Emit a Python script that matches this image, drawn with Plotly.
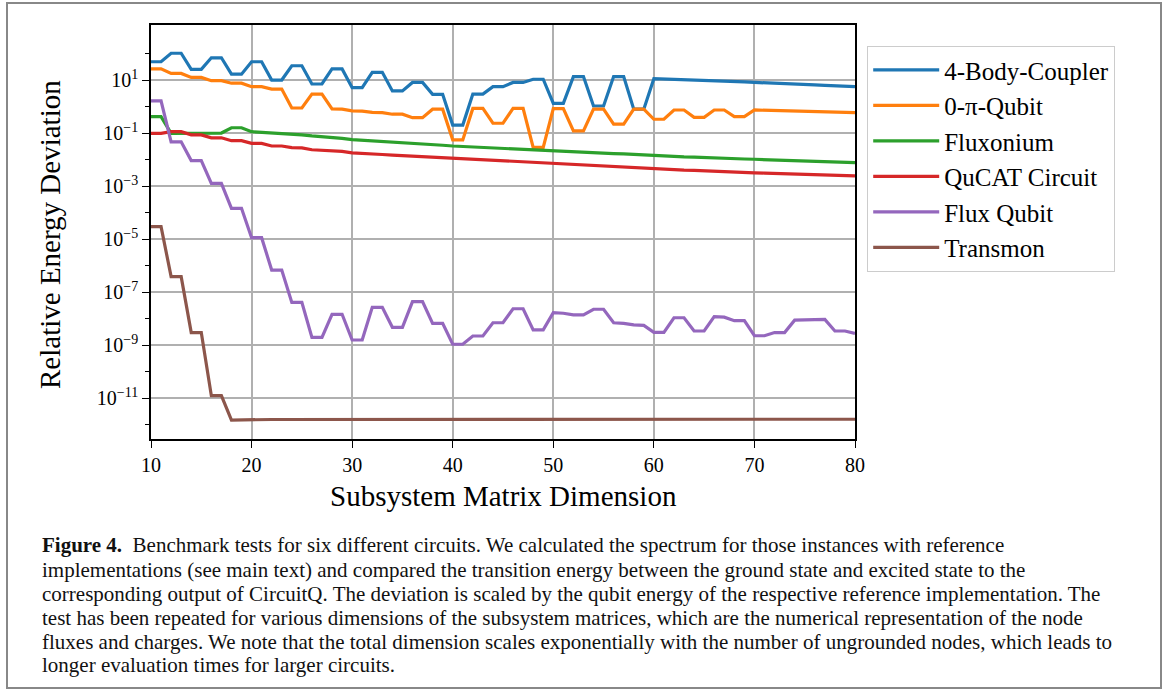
import plotly.graph_objects as go

# ---------------- data (log10 of relative energy deviation) ----------------
dims = list(range(10, 81))

coupler_log10 = [1.70, 1.70, 2.02, 2.02, 1.415, 1.415, 1.85, 1.85, 1.23, 1.23,
                 1.70, 1.70, 1.01, 1.01, 1.55, 1.55, 0.86, 0.86, 1.43, 1.43,
                 0.72, 0.72, 1.30, 1.30, 0.60, 0.60, 0.92, 0.92, 0.47, 0.47,
                 -0.69, -0.69, 0.48, 0.48, 0.76, 0.76, 0.92, 0.92, 1.04, 1.04,
                 0.13, 0.13, 1.14, 1.14, 0.03, 0.03, 1.14, 1.14, -0.09, -0.09,
                 1.06, 1.05, 1.04, 1.03, 1.01, 1.00, 0.98, 0.97, 0.95, 0.94,
                 0.92, 0.91, 0.89, 0.87, 0.86, 0.84, 0.83, 0.81, 0.80, 0.78,
                 0.76]

zeropi_log10 = [1.43, 1.43, 1.26, 1.26, 1.11, 1.11, 0.985, 0.985, 0.89, 0.89,
                0.76, 0.76, 0.67, 0.67, -0.045, -0.045, 0.48, 0.48, -0.08, -0.09,
                -0.15, -0.16, -0.21, -0.22, -0.28, -0.28, -0.41, -0.41, -0.09, -0.09,
                -1.25, -1.25, -0.06, -0.06, -0.62, -0.62, -0.06, -0.06, -1.53, -1.53,
                -0.07, -0.07, -0.91, -0.91, -0.09, -0.09, -0.65, -0.65, -0.09, -0.09,
                -0.47, -0.47, -0.12, -0.12, -0.40, -0.40, -0.12, -0.12, -0.37, -0.37,
                -0.12, -0.13, -0.14, -0.15, -0.16, -0.17, -0.18, -0.19, -0.20, -0.21,
                -0.22]

fluxonium_log10 = [-0.37, -0.37, -1.00, -1.00, -1.00, -0.99, -0.99, -0.99, -0.79, -0.79,
                   -0.94, -0.96, -0.98, -1.00, -1.04, -1.06, -1.10, -1.12, -1.17, -1.19,
                   -1.24, -1.26, -1.30, -1.32, -1.34, -1.36, -1.38, -1.40, -1.43, -1.45,
                   -1.48, -1.50, -1.52, -1.54, -1.56, -1.58, -1.60, -1.61, -1.63, -1.65,
                   -1.67, -1.69, -1.70, -1.72, -1.74, -1.75, -1.77, -1.78, -1.80, -1.83,
                   -1.86, -1.87, -1.88, -1.89, -1.90, -1.92, -1.93, -1.94, -1.95, -1.97,
                   -1.98, -1.99, -2.00, -2.02, -2.03, -2.04, -2.06, -2.07, -2.08, -2.10,
                   -2.11]

qucat_log10 = [-1.00, -1.00, -0.94, -0.94, -1.06, -1.06, -1.17, -1.17, -1.28, -1.28,
               -1.38, -1.38, -1.48, -1.48, -1.54, -1.55, -1.62, -1.63, -1.67, -1.68,
               -1.74, -1.75, -1.79, -1.80, -1.82, -1.84, -1.86, -1.88, -1.91, -1.93,
               -1.96, -1.98, -2.00, -2.02, -2.04, -2.06, -2.08, -2.10, -2.12, -2.14,
               -2.15, -2.16, -2.18, -2.20, -2.22, -2.24, -2.25, -2.27, -2.30, -2.32,
               -2.35, -2.36, -2.38, -2.39, -2.40, -2.42, -2.43, -2.45, -2.46, -2.48,
               -2.49, -2.50, -2.51, -2.53, -2.54, -2.55, -2.56, -2.57, -2.58, -2.60,
               -2.61]

fluxqubit_log10 = [0.22, 0.22, -1.32, -1.32, -2.03, -2.03, -2.89, -2.89, -3.83, -3.83,
                   -4.94, -4.94, -6.16, -6.16, -7.38, -7.38, -8.70, -8.70, -7.83, -7.83,
                   -8.80, -8.80, -7.57, -7.57, -8.32, -8.32, -7.35, -7.35, -8.17, -8.17,
                   -8.96, -8.96, -8.65, -8.65, -8.15, -8.15, -7.62, -7.62, -8.42, -8.42,
                   -7.77, -7.79, -7.85, -7.85, -7.64, -7.64, -8.15, -8.17, -8.23, -8.25,
                   -8.51, -8.51, -7.96, -7.96, -8.46, -8.46, -7.92, -7.94, -8.07, -8.07,
                   -8.64, -8.64, -8.52, -8.52, -8.05, -8.04, -8.03, -8.02, -8.46, -8.46,
                   -8.55]

transmon_log10 = [-4.52, -4.52, -6.41, -6.41, -8.52, -8.52, -10.90, -10.90, -11.82, -11.81,
                  -11.80, -11.80, -11.80, -11.80, -11.80, -11.80, -11.80, -11.80, -11.80, -11.80,
                  -11.80, -11.80, -11.80, -11.80, -11.80, -11.80, -11.80, -11.80, -11.80, -11.80,
                  -11.80, -11.80, -11.80, -11.80, -11.80, -11.80, -11.80, -11.80, -11.79, -11.79,
                  -11.79, -11.80, -11.80, -11.80, -11.80, -11.80, -11.80, -11.80, -11.80, -11.80,
                  -11.80, -11.80, -11.80, -11.80, -11.80, -11.80, -11.80, -11.80, -11.80, -11.80,
                  -11.80, -11.80, -11.80, -11.80, -11.80, -11.80, -11.81, -11.81, -11.80, -11.79,
                  -11.79]

series_names = ["4-Body-Coupler", "0-\u03c0-Qubit", "Fluxonium", "QuCAT Circuit",
                "Flux Qubit", "Transmon"]
series_data = [coupler_log10, zeropi_log10, fluxonium_log10, qucat_log10,
               fluxqubit_log10, transmon_log10]
series_colors = ["#1f77b4", "#ff7f0e", "#2ca02c", "#d62728", "#9467bd", "#8c564b"]

ytick_exponents = [1, -1, -3, -5, -7, -9, -11]
yminor_exponents = [2, 0, -2, -4, -6, -8, -10, -12]
xticks = [10, 20, 30, 40, 50, 60, 70, 80]

caption_lines = [
    "<b>Figure 4.</b>  Benchmark tests for six different circuits. We calculated the spectrum for those instances with reference",
    "implementations (see main text) and compared the transition energy between the ground state and excited state to the",
    "corresponding output of CircuitQ. The deviation is scaled by the qubit energy of the respective reference implementation. The",
    "test has been repeated for various dimensions of the subsystem matrices, which are the numerical representation of the node",
    "fluxes and charges. We note that the total dimension scales exponentially with the number of ungrounded nodes, which leads to",
    "longer evaluation times for larger circuits.",
]

# ---------------- layout geometry (pixels) ----------------
W, H = 1174, 691
L_, R_, T_, B_ = 151, 855, 25, 439
PW, PH = R_ - L_, B_ - T_


def px_x(px):
    return (px - L_) / PW


def px_y(py):
    return (B_ - py) / PH


SERIF = "Liberation Serif"

fig = go.Figure()
for name, vals, col in zip(series_names, series_data, series_colors):
    fig.add_trace(go.Scatter(
        x=dims, y=[10 ** v for v in vals], mode="lines", name=name,
        legendgroup=name,
        line=dict(color=col, width=3.2),
    ))

fig.update_layout(
    width=W, height=H,
    margin=dict(l=L_, r=W - R_, t=T_, b=H - B_, pad=0),
    paper_bgcolor="white", plot_bgcolor="white",
    font=dict(family=SERIF, size=19, color="black"),
    showlegend=True,
    legend=dict(
        x=px_x(867), y=px_y(46), xanchor="left", yanchor="top",
        bordercolor="#cccccc", borderwidth=1.2, bgcolor="white",
        font=dict(family=SERIF, size=25, color="black"),
        tracegroupgap=0, itemwidth=66,
    ),
    xaxis=dict(
        range=[10, 80], tickvals=xticks, ticktext=[str(v) for v in xticks],
        showgrid=True, gridcolor="#b0b0b0", gridwidth=1.5,
        showline=True, linecolor="black", linewidth=1.6, mirror=True,
        ticks="outside", ticklen=7, tickwidth=1.4, tickcolor="black",
        tickfont=dict(family=SERIF, size=20), zeroline=False,
    ),
    yaxis=dict(
        type="log", range=[-12.536, 3.087],
        tickvals=[10 ** e for e in ytick_exponents],
        ticktext=["10<sup>%s</sup>" % (str(e).replace("-", "\u2212")) for e in ytick_exponents],
        showgrid=True, gridcolor="#b0b0b0", gridwidth=1.5,
        showline=True, linecolor="black", linewidth=1.6, mirror=True,
        ticks="outside", ticklen=7, tickwidth=1.4, tickcolor="black",
        tickfont=dict(family=SERIF, size=20), zeroline=False,
        minor=dict(tickvals=[10 ** e for e in yminor_exponents], ticks="outside",
                   ticklen=4, tickwidth=1.2, tickcolor="black", showgrid=False),
    ),
)

annotations = [
    dict(text="Subsystem Matrix Dimension", x=px_x(503), y=px_y(496), xref="paper", yref="paper",
         showarrow=False, xanchor="center", yanchor="middle",
         font=dict(family=SERIF, size=29, color="black")),
    dict(text="Relative Energy Deviation", x=px_x(50), y=px_y(235), xref="paper", yref="paper",
         showarrow=False, xanchor="center", yanchor="middle", textangle=-90,
         font=dict(family=SERIF, size=29, color="black")),
]
line_ys = [545, 570, 594, 618, 642, 665]
for txt, ly in zip(caption_lines, line_ys):
    annotations.append(dict(text=txt, x=px_x(40), y=px_y(ly), xref="paper", yref="paper",
                            showarrow=False, xanchor="left", yanchor="middle",
                            font=dict(family=SERIF, size=21, color="#111111")))
fig.update_layout(annotations=annotations)

# outer page frame
fig.add_shape(type="rect", xref="paper", yref="paper",
              x0=px_x(7), x1=px_x(1161), y0=px_y(688), y1=px_y(3),
              line=dict(color="#888888", width=2), layer="below")

fig.write_html("out.html")
